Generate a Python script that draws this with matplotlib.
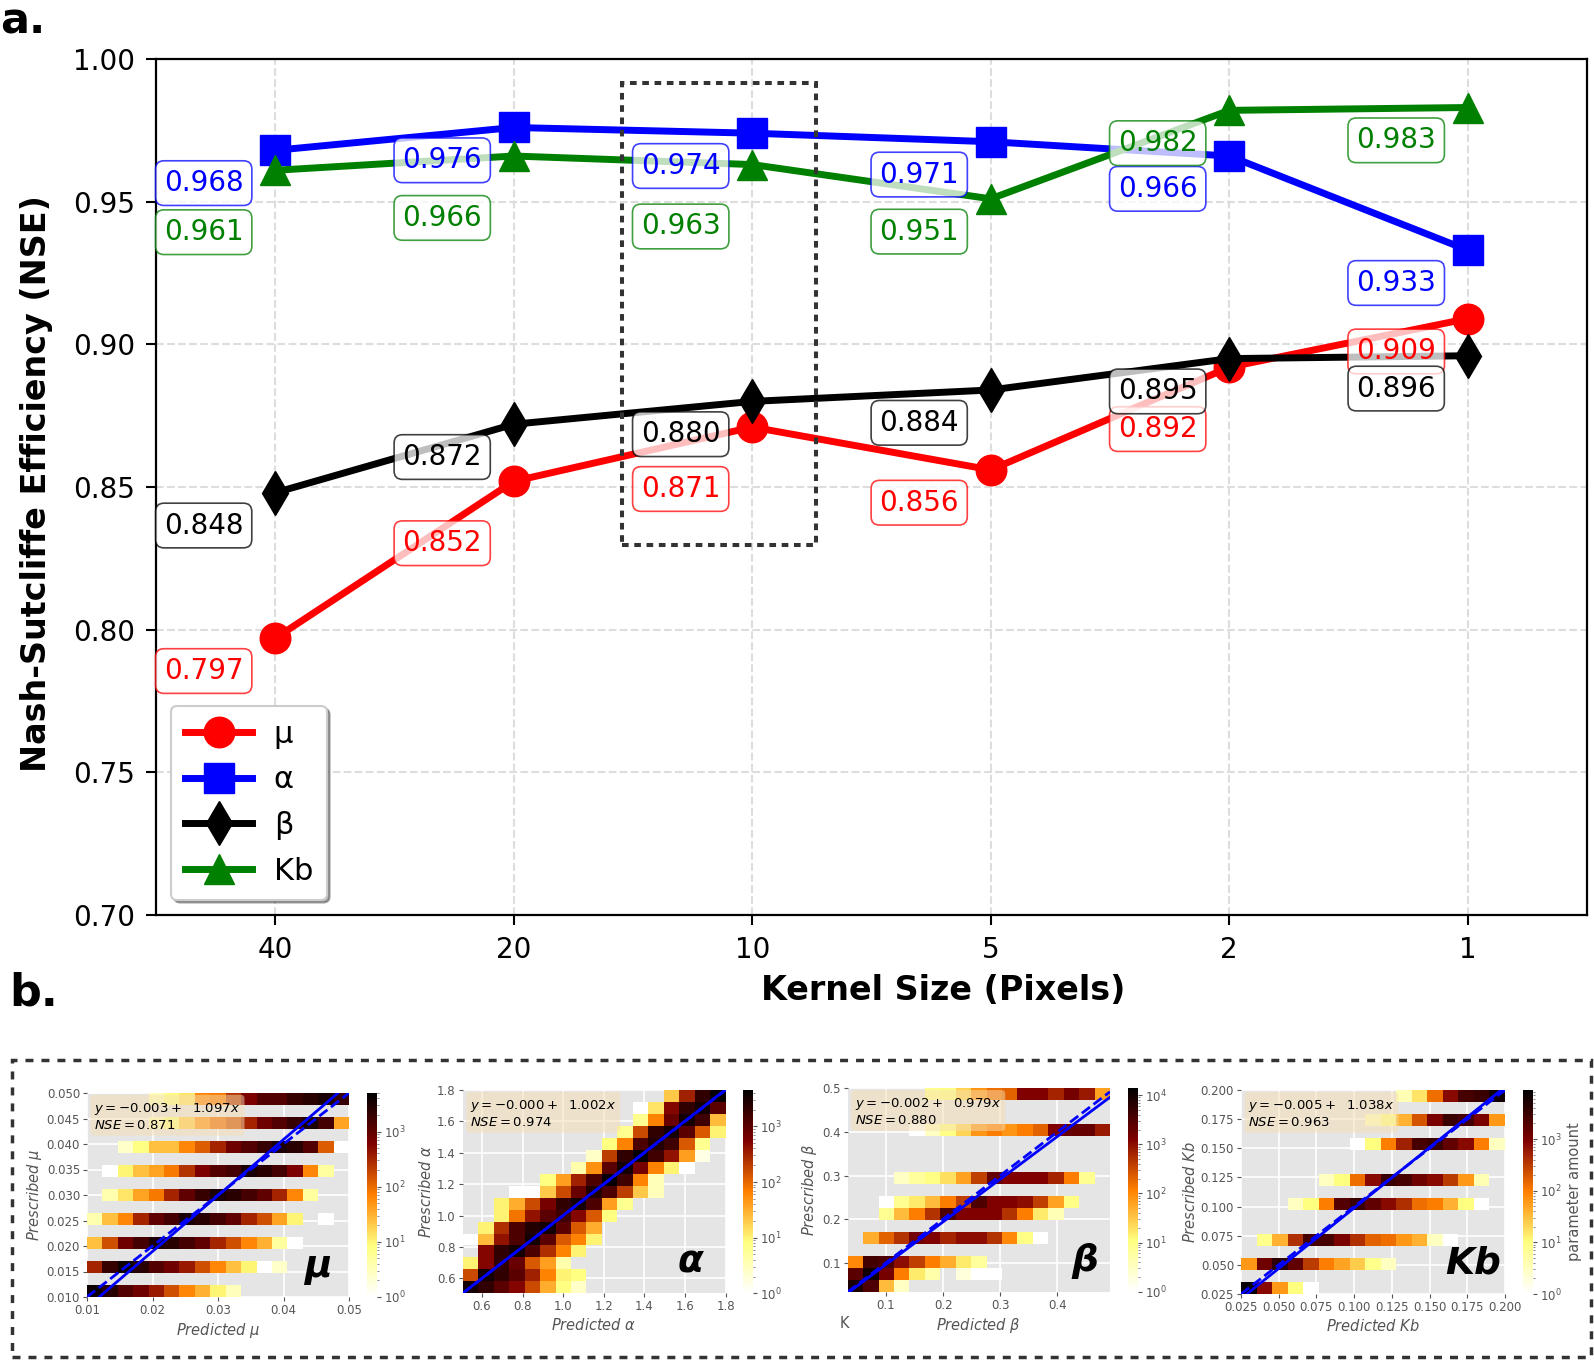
import numpy as np
import matplotlib
matplotlib.use("Agg")
import matplotlib.pyplot as plt
from matplotlib.colors import LogNorm
from matplotlib.patches import Rectangle

N = None

# ---------------- panel a data ----------------
kernel_sizes = ["40", "20", "10", "5", "2", "1"]
series_names = ["μ", "α", "β", "Kb"]
nse_mu = [0.797, 0.852, 0.871, 0.856, 0.892, 0.909]
nse_alpha = [0.968, 0.976, 0.974, 0.971, 0.966, 0.933]
nse_beta = [0.848, 0.872, 0.880, 0.884, 0.895, 0.896]
nse_kb = [0.961, 0.966, 0.963, 0.951, 0.982, 0.983]
# 1 = value label pushed further down to avoid an overlap
label_drop_mu = [0, 1, 1, 0, 1, 0]
label_drop_alpha = [0, 0, 0, 0, 0, 0]
label_drop_beta = [0, 0, 0, 0, 0, 0]
label_drop_kb = [1, 1, 1, 0, 0, 0]

# ---------------- panel b data ----------------
panel_names = ["μ", "α", "β", "Kb"]
fit_intercept = [-0.003, -0.0004, -0.002, -0.005]
fit_slope = [1.097, 1.002, 0.979, 1.038]
fit_nse = [0.871, 0.974, 0.880, 0.963]
count_max = [5000, 4500, 13800, 8900]

mu_range = (0.01, 0.05)
alpha_range = (0.505, 1.8)
beta_xrange = (0.033, 0.492)
beta_yrange = (0.0335, 0.5)
kb_range = (0.025, 0.2)

# log10(count) per cell, 17 predicted-value bins per prescribed value
mu_prescribed = [0.010, 0.015, 0.020, 0.025, 0.030, 0.035, 0.040, 0.045, 0.050]
mu_log_counts = [
    [3.6, 3.4, 3.1, 2.9, 2.6, 2.2, 1.8, 1.5, 1.0, 0.5, N, N, N, N, N, N, N],
    [2.5, 3.3, 3.6, 3.4, 3.1, 2.9, 2.6, 2.2, 1.8, 1.4, 1.0, 0.0, 0.4, N, N, N, N],
    [1.4, 2.2, 2.9, 3.2, 3.5, 3.4, 3.2, 3.0, 2.5, 2.2, 1.8, 1.5, 0.7, 0.0, N, N, N],
    [0.6, 1.4, 1.8, 2.5, 3.0, 3.2, 3.5, 3.4, 3.2, 3.0, 2.5, 2.2, 1.6, 1.0, N, 0.0, N],
    [N, 0.6, 1.1, 1.6, 1.9, 2.5, 3.0, 3.3, 3.5, 3.4, 3.2, 3.0, 2.5, 1.8, 0.7, N, N],
    [N, 0.0, 1.0, 1.4, 1.6, 1.9, 2.4, 2.8, 3.1, 3.2, 3.5, 3.4, 3.2, 2.8, 1.8, 0.7, N],
    [N, N, 0.4, 0.9, 1.4, 1.4, 1.8, 2.1, 2.5, 2.9, 3.1, 3.3, 3.5, 3.4, 3.1, 2.1, 0.0],
    [N, N, N, N, 0.5, 0.9, 1.3, 1.7, 2.0, 2.2, 2.5, 2.9, 3.1, 3.3, 3.5, 3.2, 1.6],
    [N, N, N, N, 0.5, 0.9, 1.1, 1.8, 1.9, 2.4, 2.8, 3.1, 3.1, 3.3, 3.4, 3.5, 3.3],
]

# alpha: all 17 prescribed bins (bottom to top)
alpha_log_counts = [
    [3.5, 3.3, 3.0, 2.7, 2.2, 1.5, 0.9, 0.4, N, N, N, N, N, N, N, N, N],
    [2.2, 3.5, 3.3, 3.0, 2.5, 1.8, 1.0, 0.9, N, N, N, N, N, N, N, N, N],
    [1.0, 2.7, 3.3, 2.9, 2.1, 1.6, 0.6, N, N, N, N, N, N, N, N, N, N],
    [N, 2.7, 3.3, 3.5, 3.1, 2.4, 1.8, 1.0, N, N, N, N, N, N, N, N, N],
    [0.0, 1.4, 2.6, 3.1, 3.5, 3.0, 2.1, 1.8, 1.0, N, N, N, N, N, N, N, N],
    [N, 1.0, 2.4, 3.1, 3.4, 3.5, 3.0, 2.1, 1.5, N, N, N, N, N, N, N, N],
    [N, N, 1.0, 1.9, 2.6, 3.0, 3.2, 2.7, 2.1, 0.9, N, N, N, N, N, N, N],
    [N, N, 1.0, 1.5, 2.2, 2.8, 3.3, 3.5, 3.1, 1.6, 0.8, N, N, N, N, N, N],
    [N, N, N, 0.0, 0.0, 1.3, 2.2, 2.9, 3.4, 3.1, 2.3, 1.3, 0.5, N, N, N, N],
    [N, N, N, N, N, 0.9, 1.6, 2.5, 3.1, 3.6, 3.2, 1.8, 0.5, N, N, N, N],
    [N, N, N, N, N, N, N, 0.6, 1.7, 3.0, 3.5, 2.8, 1.8, 1.0, 0.0, N, N],
    [N, N, N, N, N, N, N, N, 0.4, 2.3, 3.3, 3.6, 3.2, 2.6, 1.6, 0.2, N],
    [N, N, N, N, N, N, N, N, N, 0.9, 1.8, 3.1, 3.4, 3.2, 2.1, 0.8, N],
    [N, N, N, N, N, N, N, N, N, N, 0.8, 2.2, 3.3, 3.5, 3.0, 2.1, 1.0],
    [N, N, N, N, N, N, N, N, N, N, N, 0.8, 1.8, 2.9, 3.5, 3.2, 1.4],
    [N, N, N, N, N, N, N, N, N, N, N, 0.0, 1.1, 2.7, 3.3, 3.5, 3.0],
    [N, N, N, N, N, N, N, N, N, N, N, N, N, 1.3, 2.5, 3.3, 3.6],
]

beta_prescribed = [0.05, 0.075, 0.10, 0.15, 0.20, 0.25, 0.30, 0.40, 0.50]
beta_log_counts = [
    [3.9, 3.5, 1.6, 0.5, N, N, N, N, N, N, N, N, N, N, N, N, N],
    [3.4, 4.0, 3.2, 2.1, 1.2, 0.7, N, 0.3, 0.0, 0.0, N, N, N, N, N, N, N],
    [2.0, 3.6, 3.5, 3.0, 2.6, 2.1, 1.7, 1.2, 0.8, N, N, N, N, N, N, N, N],
    [N, 1.7, 2.3, 2.7, 3.2, 3.1, 2.8, 3.0, 3.0, 2.7, 2.0, 1.0, 0.0, N, N, N, N],
    [N, N, 0.9, 1.6, 2.1, 2.7, 3.5, 3.1, 3.1, 3.1, 2.7, 2.1, 1.2, 0.6, N, N, N],
    [N, N, 0.0, 0.9, 1.2, 1.6, 2.1, 2.6, 3.5, 3.1, 3.1, 3.0, 2.6, 1.8, 1.0, N, N],
    [N, N, N, 0.5, 0.8, 1.0, 1.3, 1.8, 2.6, 3.3, 3.1, 3.1, 3.1, 2.8, 2.1, 0.9, N],
    [N, N, N, N, 0.0, 0.5, 1.0, 1.4, 1.9, 2.1, 1.9, 2.1, 2.3, 3.1, 3.3, 3.3, 2.9],
    [N, N, N, N, N, 0.9, 1.0, 1.4, 1.9, 2.2, 2.3, 3.1, 3.1, 2.8, 3.2, 2.9, 1.8],
]

kb_prescribed = [0.025, 0.050, 0.075, 0.100, 0.125, 0.150, 0.175, 0.200]
kb_log_counts = [
    [3.9, 2.9, 1.8, 1.0, 0.0, N, N, N, N, N, N, N, N, N, N, N, N],
    [1.8, 3.1, 3.6, 3.2, 2.5, 2.0, 1.7, 1.4, 0.9, 0.5, N, N, N, N, N, N, N],
    [N, 0.9, 1.6, 2.6, 3.4, 3.4, 3.0, 2.6, 2.2, 2.1, 1.8, 1.6, 0.5, 0.0, N, N, N],
    [N, N, N, 0.5, 1.0, 2.0, 3.3, 3.5, 3.2, 2.9, 2.6, 2.1, 2.0, 1.6, 1.0, 0.0, N],
    [N, N, N, N, N, 0.5, 1.0, 2.1, 2.9, 3.5, 3.4, 3.1, 2.9, 2.5, 1.8, 0.6, N],
    [N, N, N, N, N, N, N, 0.0, 1.0, 2.0, 2.7, 3.4, 3.5, 3.2, 2.9, 2.0, 0.5],
    [N, N, N, N, N, N, N, N, 0.5, 1.0, 1.6, 2.3, 3.0, 3.5, 3.4, 3.0, 1.8],
    [N, N, N, N, N, N, N, N, N, N, 0.6, 1.2, 2.1, 2.9, 3.4, 3.5, 3.8],
]

# ---------------- figure ----------------
W, H = 1594, 1361
fig = plt.figure(figsize=(W / 100, H / 100), dpi=100)
plt.rcParams["font.family"] = ["DejaVu Sans"]


def px_axes(l, t, r, b):
    return [l / W, 1 - b / H, (r - l) / W, (b - t) / H]


# ---------------- panel a ----------------
ax = fig.add_axes(px_axes(156, 59, 1587, 915))
xpos = np.arange(len(kernel_sizes))
series = [
    (nse_mu, label_drop_mu, "red", "o"),
    (nse_alpha, label_drop_alpha, "blue", "s"),
    (nse_beta, label_drop_beta, "black", "d"),
    (nse_kb, label_drop_kb, "green", "^"),
]
for (vals, drops, col, mk), name in zip(series, series_names):
    ax.plot(xpos, vals, color=col, marker=mk, ms=22, lw=5, label=name, zorder=3)
for (vals, drops, col, mk) in series:
    for xi, v, d in zip(xpos, vals, drops):
        ax.text(xi - 0.3, v - 0.0115 - 0.0102 * d, f"{v:.3f}", ha="center",
                va="center", fontsize=20, color=col, zorder=6,
                bbox=dict(boxstyle="round,pad=0.3", fc="white", ec=col,
                          alpha=0.75, lw=1.2))

ax.add_patch(Rectangle((1.452, 0.8297), 0.816, 0.1619, fill=False,
                       ec="#333333", lw=2.9, ls=(0, (1.65, 1.4)), zorder=5))

ax.set_xlim(-0.5, 5.5)
ax.set_ylim(0.70, 1.00)
ax.set_xticks(xpos)
ax.set_xticklabels(kernel_sizes)
ax.set_yticks(np.arange(0.70, 1.0001, 0.05))
ax.yaxis.set_major_formatter(matplotlib.ticker.FormatStrFormatter("%.2f"))
ax.tick_params(labelsize=20, length=7, width=1.5, pad=8)
ax.grid(True, ls="--", color="#dddddd", lw=1.5, zorder=0)
ax.set_axisbelow(True)
for s in ax.spines.values():
    s.set_linewidth(1.6)
leg = ax.legend(loc="lower left", fontsize=22, handlelength=2.2,
                handletextpad=0.7, labelspacing=0.55, borderpad=0.45,
                shadow=True, fancybox=True, framealpha=1, edgecolor="0.8")
leg.get_frame().set_linewidth(1.5)

fig.text(37 / W, 1 - 484 / H, "Nash-Sutcliffe Efficiency (NSE)", rotation=90,
         ha="center", va="center", fontsize=24, fontweight="bold")
fig.text(943.5 / W, 1 - 1000 / H, "Kernel Size (Pixels)", ha="center",
         va="baseline", fontsize=24, fontweight="bold")
fig.text(0.0, 1 - 1 / H, "a.", ha="left", va="top", fontsize=31,
         fontweight="bold")
fig.text(9 / W, 1 - 1005 / H, "b.", ha="left", va="baseline", fontsize=32,
         fontweight="bold")

# ---------------- panel b ----------------
gray = "#555555"
cmap = plt.get_cmap("afmhot_r")


def grid_from_rows(levels, prescribed, yedges):
    nbin = len(yedges) - 1
    z = np.full((nbin, len(levels[0])), np.nan)
    for pv, row in zip(prescribed, levels):
        k = int(np.clip(np.searchsorted(yedges, pv, side="right") - 1, 0, nbin - 1))
        z[k] = [np.nan if v is None else 10.0 ** v for v in row]
    return z


def full_grid(levels):
    return np.array([[np.nan if v is None else 10.0 ** v for v in row]
                     for row in levels])


panels = [
    dict(rect=(87, 1093, 349, 1297), cb=(367, 377), xr=mu_range, yr=mu_range,
         xt=np.arange(0.01, 0.0501, 0.01), yt=np.arange(0.010, 0.0501, 0.005),
         xf="%.2f", yf="%.3f", lab=r"\mu", big_x=0.935),
    dict(rect=(462.7, 1090, 725.7, 1293.3), cb=(742.7, 752.7), xr=alpha_range,
         yr=alpha_range, xt=np.arange(0.6, 1.801, 0.2),
         yt=np.arange(0.6, 1.801, 0.2), xf="%.1f", yf="%.1f", lab=r"\alpha",
         big_x=0.915),
    dict(rect=(847.7, 1088.3, 1110, 1291.7), cb=(1128.3, 1138.3), xr=beta_xrange,
         yr=beta_yrange, xt=np.arange(0.1, 0.401, 0.1),
         yt=np.arange(0.1, 0.501, 0.1), xf="%.1f", yf="%.1f", lab=r"\beta",
         big_x=0.955),
    dict(rect=(1241, 1090, 1505, 1294), cb=(1522.7, 1532.7), xr=kb_range,
         yr=kb_range, xt=np.arange(0.025, 0.2001, 0.025),
         yt=np.arange(0.025, 0.2001, 0.025), xf="%.3f", yf="%.3f", lab="Kb",
         big_x=0.985),
]

grids = []
for i, p in enumerate(panels):
    ye = np.linspace(p["yr"][0], p["yr"][1], 18)
    if i == 0:
        grids.append(grid_from_rows(mu_log_counts, mu_prescribed, ye))
    elif i == 1:
        grids.append(full_grid(alpha_log_counts))
    elif i == 2:
        grids.append(grid_from_rows(beta_log_counts, beta_prescribed, ye))
    else:
        grids.append(grid_from_rows(kb_log_counts, kb_prescribed, ye))

for i, p in enumerate(panels):
    l, t, r, b = p["rect"]
    hx = fig.add_axes(px_axes(l, t, r, b))
    hx.set_facecolor("#E5E5E5")
    for s in hx.spines.values():
        s.set_visible(False)
    hx.grid(True, color="white", lw=1.2)
    hx.set_axisbelow(True)
    xe = np.linspace(p["xr"][0], p["xr"][1], 18)
    ye = np.linspace(p["yr"][0], p["yr"][1], 18)
    z = np.ma.masked_invalid(grids[i])
    mesh = hx.pcolormesh(xe, ye, z, cmap=cmap,
                         norm=LogNorm(vmin=1, vmax=count_max[i]), zorder=1)
    xs = np.linspace(p["xr"][0], p["xr"][1], 200)
    hx.plot(xs, xs, color="blue", ls="--", lw=2, zorder=2)
    hx.plot(xs, fit_intercept[i] + fit_slope[i] * xs, color="blue", lw=2, zorder=3)
    hx.set_xlim(*p["xr"])
    hx.set_ylim(*p["yr"])
    hx.set_xticks(p["xt"])
    hx.set_yticks(p["yt"])
    hx.xaxis.set_major_formatter(matplotlib.ticker.FormatStrFormatter(p["xf"]))
    hx.yaxis.set_major_formatter(matplotlib.ticker.FormatStrFormatter(p["yf"]))
    hx.tick_params(colors=gray, labelsize=8.5, length=3, width=0.8, pad=2)
    hx.set_xlabel(r"$Predicted\ %s$" % p["lab"], fontsize=10.5, color=gray,
                  labelpad=3)
    hx.set_ylabel(r"$Prescribed\ %s$" % p["lab"], fontsize=10.5, color=gray,
                  labelpad=2)
    txt = r"$y = %.3f + \ \ %.3fx$" % (fit_intercept[i], fit_slope[i]) + "\n" + \
        r"$NSE = %.3f$" % fit_nse[i]
    hx.text(0.028, 0.962, txt, transform=hx.transAxes, fontsize=9.5, va="top",
            ha="left", zorder=5,
            bbox=dict(boxstyle="round,pad=0.3", facecolor="wheat", alpha=0.5,
                      edgecolor="none"))
    hx.text(p["big_x"], 0.1, panel_names[i], transform=hx.transAxes,
            ha="right", va="baseline", fontsize=27, fontweight="bold",
            fontstyle="italic", zorder=6)

    c0, c1 = p["cb"]
    cax = fig.add_axes(px_axes(c0, t, c1, b))
    cb = fig.colorbar(mesh, cax=cax)
    cb.outline.set_visible(False)
    cb.ax.tick_params(colors=gray, labelsize=8.5, length=3, width=0.8, pad=2)
    cb.ax.tick_params(which="minor", colors=gray, length=1.5, width=0.5)
    if i == 3:
        cb.set_label("parameter amount", fontsize=10.5, color=gray, labelpad=4)

fig.text(840 / W, 1 - 1328 / H, "K", fontsize=10.5, color=gray,
         ha="left", va="baseline")

fig.add_artist(Rectangle((11.7 / W, 1 - 1357 / H), (1590.7 - 11.7) / W,
                         (1357 - 1060) / H, transform=fig.transFigure,
                         fill=False, ec="#333333", lw=2.5,
                         ls=(0, (2.3, 2.3))))

fig.savefig("out.png", dpi=100)
